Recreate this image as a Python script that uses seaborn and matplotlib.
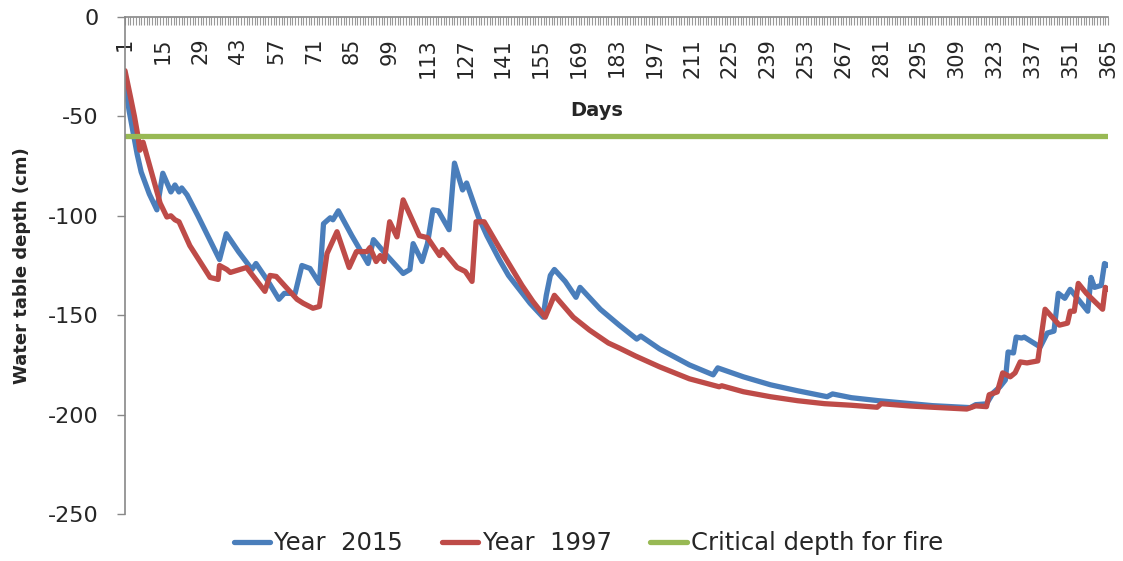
import matplotlib
matplotlib.use("Agg")
import matplotlib.pyplot as plt
import seaborn as sns
import pandas as pd

# ---------------- data ----------------
days_2015 = [1, 2.5, 4, 5.5, 7, 10, 12.8, 15, 18, 19.5, 21, 22, 24, 28, 32, 36, 38.5, 43, 48,
             49.5, 54, 58, 60, 64, 66.5, 69.5, 73, 74.5, 77, 78, 80, 85, 91, 93, 98, 104,
             106.5, 107.7, 111, 113, 115, 117, 121, 123, 126, 127.5, 132, 135, 139.6, 143,
             147, 151, 155.8, 157, 158.5, 160, 164, 168, 169.5, 177, 184, 190.5, 192, 199, 210,
             218.8, 220.5, 230, 240, 250, 261, 263, 270, 280, 292, 300, 314, 316, 320, 322.5,
             325, 327, 328, 330, 331, 333, 334, 339.9, 342.5, 345, 346.6, 349, 351, 357.5,
             358.7, 360, 362.5, 363.7, 365]
depth_2015 = [-33, -47, -58, -69, -78, -89, -97, -78.6, -88, -84.5, -88, -86, -89.5, -100, -111,
              -122, -109, -118, -127, -124, -133, -142, -139, -139, -125, -126.5, -134, -104,
              -101, -102, -97.5, -110, -124, -112, -120, -129, -127, -114, -123, -114, -97,
              -97.5, -107, -73.5, -87, -83.5, -101, -110, -122, -130, -137, -144, -151, -140,
              -130, -127, -133, -141, -136, -147, -155, -162, -160.5, -167, -175, -180, -176.5,
              -181, -185, -188, -191, -189.6, -191.5, -193, -194.5, -195.5, -196.5, -195,
              -194.6, -189, -186, -182.6, -168.5, -169, -161, -161.5, -161, -166, -159, -158,
              -139, -141.5, -137, -148, -131, -136, -135, -124, -125]

days_1997 = [1, 3, 4.5, 5.8, 6.5, 7.7, 14, 16.5, 18, 19.5, 21, 25, 32.5, 35.5, 36, 38.7, 40,
             46, 52.8, 54.7, 57, 64.7, 67, 70.6, 73, 75.8, 79.5, 84, 86.7, 90.6, 91.7, 94, 95.5,
             97, 99, 101.7, 104, 110, 113, 117.5, 118.5, 124, 127, 129.5, 131, 134, 137, 140,
             144, 148, 152, 156.6, 160, 167, 173, 180, 184, 190, 199, 210, 221, 222, 230, 240,
             250, 260, 270, 279.5, 281, 292, 300, 312.7, 316, 320, 321, 324, 326, 328.8,
             330.6, 332.5, 335, 339, 341.7, 347, 350, 351, 352.5, 354, 357, 363, 364, 365]
depth_1997 = [-27, -40, -50, -60, -67, -63, -93.6, -100.6, -100, -102, -103, -115, -131, -132,
              -125, -127, -128.5, -126, -138, -130, -130.5, -142, -144, -146.5, -145.6, -119,
              -108, -126, -118, -118, -116, -123, -120, -123, -103, -110.6, -92, -110, -111,
              -120, -117, -126, -128, -133, -103, -103, -110, -117, -126, -135, -143, -151,
              -140, -151, -157.5, -164, -166.5, -170.5, -176, -182, -186, -185.5, -188.5, -191,
              -193, -194.5, -195.3, -196.3, -194.5, -195.7, -196.3, -197.2, -195.6, -196, -190,
              -188.6, -179, -181, -179, -173.5, -174, -173, -147, -155, -154, -148, -148, -134,
              -139, -147, -136, -137]

days_critical = [1, 365]
depth_critical = [-60, -60]

series_names = ["Year  2015", "Year  1997", "Critical depth for fire"]
colors = ["#4A7EBB", "#BE4B48", "#98B954"]
tick_days = list(range(1, 366, 14))

df = pd.concat([
    pd.DataFrame({"day": days_2015, "depth": depth_2015, "series": series_names[0]}),
    pd.DataFrame({"day": days_1997, "depth": depth_1997, "series": series_names[1]}),
    pd.DataFrame({"day": days_critical, "depth": depth_critical, "series": series_names[2]}),
])

# ---------------- style ----------------
sns.set_theme(style="white")
plt.rcParams["font.family"] = ["DejaVu Sans"]
plt.rcParams["axes.unicode_minus"] = False

fig = plt.figure(figsize=(11.23, 5.61), dpi=100)
ax = fig.add_axes([125 / 1123, 47 / 561, 983 / 1123, 497 / 561])

sns.lineplot(data=df, x="day", y="depth", hue="series", hue_order=series_names,
             palette=colors, linewidth=3.8, sort=False, estimator=None, ax=ax,
             legend=True)

ax.set_xlim(1, 365)
ax.set_ylim(-250, 0)
ax.set_yticks(range(-250, 1, 50))
ax.tick_params(axis="y", labelsize=16, length=6, width=1, color="#888888",
               direction="out", left=True, pad=13)

# x axis drawn along y = 0 (top), labels hanging below it
ax.spines["bottom"].set_position(("data", 0))
ax.spines["top"].set_visible(False)
ax.spines["right"].set_visible(False)
for s in ("bottom", "left"):
    ax.spines[s].set_color("#888888")
    ax.spines[s].set_linewidth(1.2)
ax.set_xticks(tick_days)
ax.set_xticks(range(1, 366), minor=True)
ax.set_xticklabels([str(d) for d in tick_days], rotation=90)
ax.tick_params(axis="x", which="both", bottom=True, direction="out", length=6,
               width=0.8, color="#999999", labelsize=15, pad=9)
ax.set_xlabel("")
ax.set_ylabel("Water table depth (cm)", fontsize=13, fontweight="bold", labelpad=12)
ax.text(0.48, 0.811, "Days", transform=ax.transAxes, ha="center", va="center",
        fontsize=14, fontweight="bold")

ax.get_legend().remove()
handles, labels = ax.get_legend_handles_labels()
fig.legend(handles, labels, loc="center", bbox_to_anchor=(0.524, 0.032), ncol=3,
           frameon=False, fontsize=17.5, handlelength=1.5, handletextpad=0.17,
           columnspacing=1.6)

fig.savefig("out.png", dpi=100)
